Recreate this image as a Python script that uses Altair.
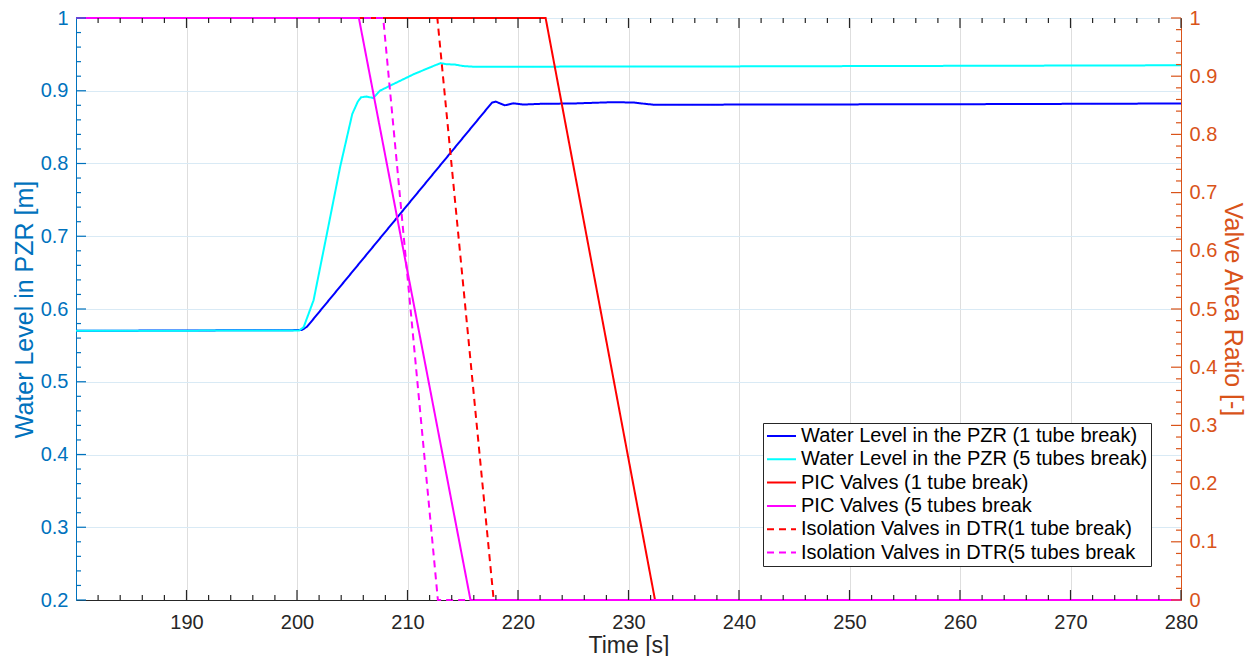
import altair as alt
import pandas as pd

# ---------------- data ----------------
names = [
    "Water Level in the PZR (1 tube break)",
    "Water Level in the PZR (5 tubes break)",
    "PIC Valves (1 tube break)",
    "PIC Valves (5 tubes break",
    "Isolation Valves in DTR(1 tube break)",
    "Isolation Valves in DTR(5 tubes break",
]
colors = ["#0000FF", "#00FFFF", "#FF0000", "#FF00FF", "#FF0000", "#FF00FF"]
dashes = [[1, 0], [1, 0], [1, 0], [1, 0], [7, 5], [7, 5]]

# Water level, 1 tube break [m]
t_blue = [180, 200.4, 200.9, 217.65, 218.0, 218.8, 219.6, 220.5, 222.0, 225.0,
          228.6, 230.5, 231.5, 232.4, 240.0, 260.0, 280.0]
h_blue = [0.570, 0.571, 0.5755, 0.8838, 0.885, 0.880, 0.8827, 0.881, 0.882, 0.8825,
          0.8843, 0.8838, 0.882, 0.8806, 0.881, 0.8815, 0.8825]

# Water level, 5 tubes break [m]
t_cyan = [180, 200.2, 200.6, 201.5, 202.7, 203.9, 205.0, 205.5, 205.8, 206.3, 206.9,
          207.5, 208.7, 210.6, 212.5, 213.0, 213.5, 214.3, 215.0, 216.0, 240.0, 280.0]
h_cyan = [0.570, 0.5705, 0.575, 0.612, 0.703, 0.795, 0.868, 0.885, 0.891, 0.892, 0.890,
          0.900, 0.909, 0.923, 0.935, 0.938, 0.9365, 0.936, 0.934, 0.933, 0.9335, 0.935]

# Valve area ratios [-]
t_pic1 = [180, 222.5, 232.4, 280]
r_pic1 = [1, 1, 0, 0]
t_pic5 = [180, 205.6, 215.7, 280]
r_pic5 = [1, 1, 0, 0]
t_iso1 = [180, 212.7, 217.8, 280]
r_iso1 = [1, 1, 0, 0]
t_iso5 = [180, 207.8, 212.75, 280]
r_iso5 = [1, 1, 0, 0]

# axis ticks
x_major = [190, 200, 210, 220, 230, 240, 250, 260, 270, 280]
x_minor = [v for v in range(182, 280, 2) if v % 10 != 0]
yl_major = [0.2, 0.3, 0.4, 0.5, 0.6, 0.7, 0.8, 0.9, 1.0]
yl_minor = [round(0.2 + 0.02 * i, 2) for i in range(41) if i % 5 != 0]
yr_major = [0, 0.1, 0.2, 0.3, 0.4, 0.5, 0.6, 0.7, 0.8, 0.9, 1.0]
yr_minor = [round(0.02 * i, 2) for i in range(51) if i % 5 != 0]

# ---------------- tables ----------------
left_rows = []
for n, ts, vs in [(names[0], t_blue, h_blue), (names[1], t_cyan, h_cyan)]:
    for k, (t, v) in enumerate(zip(ts, vs)):
        left_rows.append({"series": n, "t": t, "v": v, "k": k})
left_df = pd.DataFrame(left_rows)

right_rows = []
for n, ts, vs in [(names[2], t_pic1, r_pic1), (names[4], t_iso1, r_iso1),
                  (names[3], t_pic5, r_pic5), (names[5], t_iso5, r_iso5)]:
    for k, (t, v) in enumerate(zip(ts, vs)):
        right_rows.append({"series": n, "t": t, "v": v, "k": k})
right_df = pd.DataFrame(right_rows)

xmaj_df = pd.DataFrame({"t": x_major})
xmin_df = pd.DataFrame({"t": x_minor})
ylmaj_df = pd.DataFrame({"v": yl_major})
ylmin_df = pd.DataFrame({"v": yl_minor})
yrmaj_df = pd.DataFrame({"v": yr_major})
yrmin_df = pd.DataFrame({"v": yr_minor})

# ---------------- styling ----------------
W, H = 1105, 582
FONT = "Liberation Sans"
BLUE_AX = "#0072BD"
ORANGE_AX = "#D95319"
DARK = "#262626"
TICK_FS = 20
XTITLE_FS = 23
YTITLE_FS = 25
MAJ, MIN = 10, 5

xs = alt.Scale(domain=[180, 280], nice=False, zero=False)
yls = alt.Scale(domain=[0.2, 1.0], nice=False, zero=False)
yrs = alt.Scale(domain=[0, 1.0], nice=False, zero=False)

legend = alt.Legend(
    orient="none", legendX=687, legendY=405,
    symbolType="stroke", symbolSize=841, symbolStrokeWidth=2, clipHeight=20,
    labelFont=FONT, labelFontSize=20, labelColor="#000000", labelLimit=600,
    labelOffset=4, rowPadding=3.3, padding=3,
    fillColor="#FFFFFF", strokeColor=DARK, cornerRadius=0,
)
color = alt.Color("series:N", title=None,
                  scale=alt.Scale(domain=names, range=colors), legend=legend)
dash = alt.StrokeDash("series:N", title=None,
                      scale=alt.Scale(domain=names, range=dashes), legend=legend)

x_main = alt.Axis(orient="bottom", values=x_major, ticks=False, grid=True,
                  gridColor="#DEDEDE", gridWidth=1, domainColor=DARK,
                  labelFont=FONT, labelFontSize=TICK_FS, labelColor=DARK,
                  labelPadding=12, labelFlush=False, labelOverlap=False,
                  title="Time [s]", titleFont=FONT, titleFontSize=XTITLE_FS,
                  titleFontWeight="normal", titleColor=DARK, titlePadding=2)
yl_main = alt.Axis(orient="left", values=yl_major, ticks=False, grid=True,
                   gridColor="#D9EAF5", gridWidth=1, domainColor=BLUE_AX,
                   labelFont=FONT, labelFontSize=TICK_FS, labelColor=BLUE_AX,
                   labelPadding=8, labelFlush=False, labelOverlap=False, format="~g",
                   title="Water Level in PZR [m]", titleFont=FONT,
                   titleFontSize=YTITLE_FS, titleFontWeight="normal",
                   titleColor=BLUE_AX, titlePadding=3)
yr_main = alt.Axis(orient="right", values=yr_major, ticks=False, grid=False,
                   domainColor=ORANGE_AX,
                   labelFont=FONT, labelFontSize=TICK_FS, labelColor=ORANGE_AX,
                   labelPadding=8, labelFlush=False, labelOverlap=False, format="~g",
                   title="Valve Area Ratio [-]", titleFont=FONT,
                   titleFontSize=YTITLE_FS, titleFontWeight="normal",
                   titleColor=ORANGE_AX, titlePadding=3)

X = alt.X("t:Q", scale=xs, axis=x_main)


def xticks(df, y0, y1):
    return alt.Chart(df).mark_rule(color=DARK, strokeWidth=1.2).encode(
        x=X, y=alt.value(y0), y2=alt.value(y1))


def yticks(df, scale, col, x0, x1):
    return alt.Chart(df).mark_rule(color=col, strokeWidth=1.2).encode(
        y=alt.Y("v:Q", scale=scale, axis=None), x=alt.value(x0), x2=alt.value(x1))


left_lines = alt.Chart(left_df).mark_line(strokeWidth=2).encode(
    x=X,
    y=alt.Y("v:Q", scale=yls, axis=yl_main),
    color=color, strokeDash=dash, order="k:Q",
)

right_lines = alt.Chart(right_df).mark_line(strokeWidth=2).encode(
    x=X,
    y=alt.Y("v:Q", scale=yrs, axis=yr_main),
    color=color, strokeDash=dash, order="k:Q",
)

tick_layers = [
    xticks(xmaj_df, H, H - MAJ), xticks(xmin_df, H, H - MIN),
    xticks(xmaj_df, 0, MAJ), xticks(xmin_df, 0, MIN),
    yticks(ylmaj_df, yls, BLUE_AX, 0, MAJ), yticks(ylmin_df, yls, BLUE_AX, 0, MIN),
    yticks(yrmaj_df, yrs, ORANGE_AX, W, W - MAJ), yticks(yrmin_df, yrs, ORANGE_AX, W, W - MIN),
]

chart = alt.layer(left_lines, right_lines, *tick_layers).resolve_scale(
    y="independent"
).resolve_axis(
    y="independent"
).properties(
    width=W, height=H,
    autosize=alt.AutoSizeParams(type="none"),
    padding={"left": 68, "top": 10, "right": 70, "bottom": 56},
    background="#FFFFFF",
).configure_view(
    stroke=DARK, strokeWidth=1
).configure(font=FONT)

chart.save("out.html", embed_options={"renderer": "svg", "actions": False})
